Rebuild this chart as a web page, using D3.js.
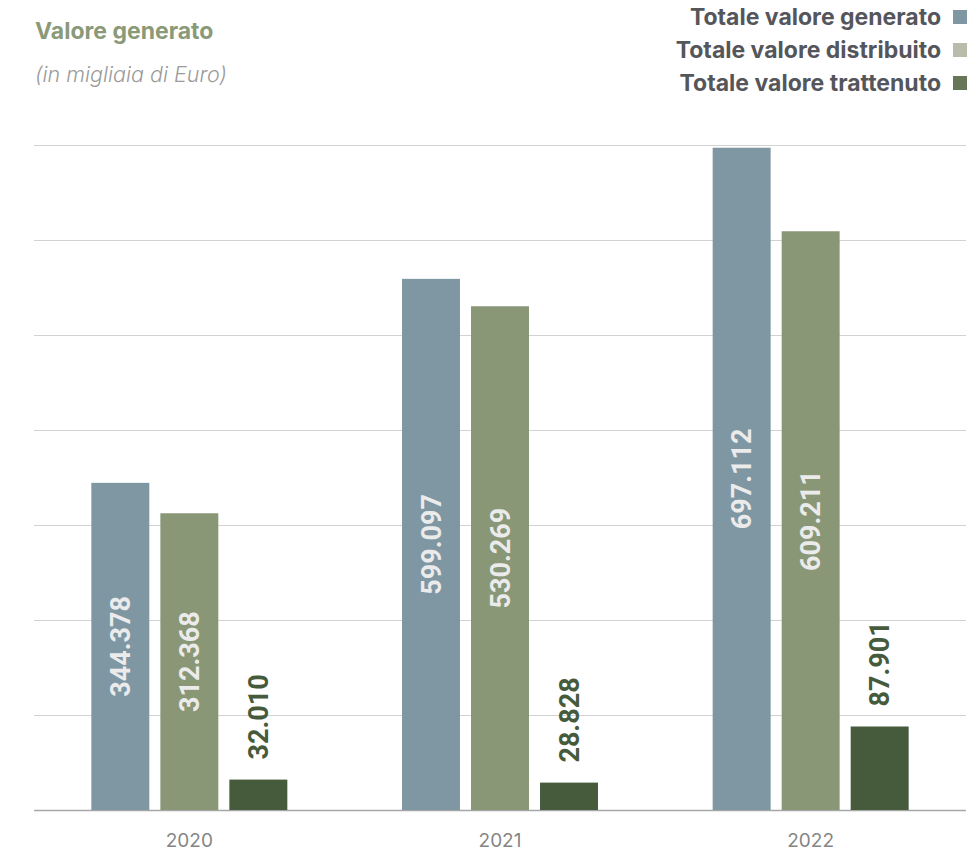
<!DOCTYPE html>
<html>
<head>
  <meta charset="UTF-8" />
  <title>Valore generato</title>
  <script src="https://d3js.org/d3.v7.min.js"></script>
  <style>
    body { margin: 0; background: #fff; }
  </style>
</head>
<body>
<div id="chart"></div>
<script>
  // data (migliaia di Euro)
  var years = ["2020", "2021", "2022"];
  var series = ["Totale valore generato", "Totale valore distribuito", "Totale valore trattenuto"];
  // bar heights as drawn (2021 generato bar = distribuito + trattenuto)
  var generato = [344.378, 559.097, 697.112];
  var distribuito = [312.368, 530.269, 609.211];
  var trattenuto = [32.010, 28.828, 87.901];
  // labels as printed on the chart
  var labels = [["344.378", "599.097", "697.112"], ["312.368", "530.269", "609.211"], ["32.010", "28.828", "87.901"]];
  var yTicks = [0, 100, 200, 300, 400, 500, 600, 700];

  var barColors = ["#7f97a3", "#8a9777", "#465a3c"];
  var legendColors = ["#7f97a3", "#b9bcaa", "#667656"];

  var values = [generato, distribuito, trattenuto];

  const svg = d3.select("#chart")
    .append("svg")
    .attr("width", 979)
    .attr("height", 853);

  var xScale = d3.scaleBand().domain(years).range([34, 966]);
  var bw = xScale.bandwidth();
  var inner = d3.scaleBand()
    .domain(d3.range(series.length))
    .range([bw / 2 - 98, bw / 2 + 98])
    .paddingInner(0.16);
  var yScale = d3.scaleLinear().domain([0, 700]).range([810, 145]);

  // gridlines
  svg.append("g")
    .selectAll("line")
    .data(yTicks)
    .enter()
    .append("line")
    .attr("x1", 34)
    .attr("x2", 966)
    .attr("y1", d => yScale(d) + 0.5)
    .attr("y2", d => yScale(d) + 0.5)
    .attr("stroke", d => d == 0 ? "#a6a6a6" : "#d2d2d2")
    .attr("stroke-width", d => d == 0 ? 1.5 : 1);

  // bars
  var rows = [];
  years.forEach((y, i) => {
    series.forEach((s, j) => {
      rows.push({ year: y, s: j, value: values[j][i], label: labels[j][i] });
    });
  });

  svg.append("g")
    .selectAll("rect")
    .data(rows)
    .enter()
    .append("rect")
    .attr("x", d => xScale(d.year) + inner(d.s))
    .attr("width", inner.bandwidth())
    .attr("y", d => yScale(d.value))
    .attr("height", d => yScale(0) - yScale(d.value))
    .attr("fill", d => barColors[d.s]);

  // value labels, rotated
  svg.append("g")
    .selectAll("text")
    .data(rows)
    .enter()
    .append("text")
    .attr("transform", d => {
      var cx = xScale(d.year) + inner(d.s) + inner.bandwidth() / 2;
      var small = d.s == 2;
      var cy = small ? yScale(d.value) - 20 : (yScale(d.value) + yScale(0)) / 2;
      return "translate(" + cx + "," + cy + ") rotate(-90)";
    })
    .attr("text-anchor", d => d.s == 2 ? "start" : "middle")
    .attr("dy", "0.36em")
    .style("font-family", "Roboto")
    .style("font-weight", "bold")
    .style("font-size", "27px")
    .attr("fill", d => d.s == 2 ? "#465a3c" : "#ebebeb")
    .text(d => d.label);

  // x axis labels
  svg.append("g")
    .selectAll("text")
    .data(years)
    .enter()
    .append("text")
    .attr("x", d => xScale(d) + bw / 2)
    .attr("y", 847)
    .attr("text-anchor", "middle")
    .style("font-family", "Inter")
    .style("font-size", "19px")
    .attr("fill", "#858585")
    .text(d => d);

  // title
  svg.append("text")
    .attr("x", 35)
    .attr("y", 39)
    .style("font-family", "Inter")
    .style("font-weight", "bold")
    .style("font-size", "23px")
    .attr("fill", "#8a9a78")
    .text("Valore generato");

  svg.append("text")
    .attr("x", 35)
    .attr("y", 82)
    .style("font-family", "Inter")
    .style("font-style", "italic")
    .style("font-weight", "300")
    .style("font-size", "21.5px")
    .attr("fill", "#9b9b9b")
    .text("(in migliaia di Euro)");

  // legend
  var legend = svg.append("g")
    .selectAll("g")
    .data(series)
    .enter()
    .append("g")
    .attr("transform", (d, i) => "translate(0," + (17 + i * 33) + ")");

  legend.append("rect")
    .attr("x", 953)
    .attr("y", -7)
    .attr("width", 14)
    .attr("height", 14)
    .attr("fill", (d, i) => legendColors[i]);

  legend.append("text")
    .attr("x", 941)
    .attr("dy", "0.36em")
    .attr("text-anchor", "end")
    .style("font-family", "Inter")
    .style("font-weight", "bold")
    .style("font-size", "23px")
    .attr("fill", "#55565b")
    .text(d => d);
</script>
</body>
</html>
